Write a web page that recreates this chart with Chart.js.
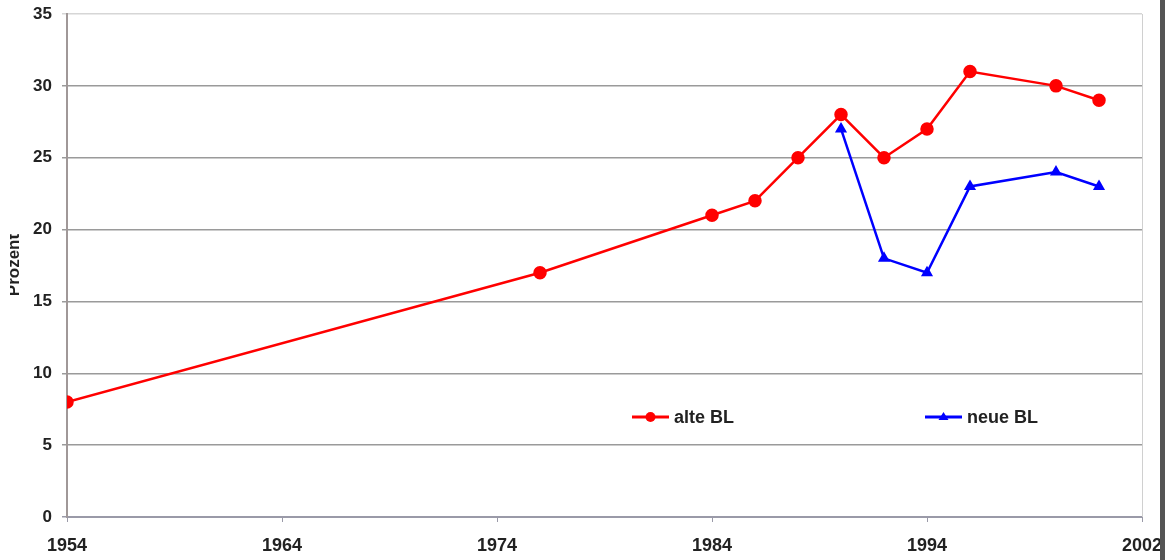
<!DOCTYPE html>
<html><head><meta charset="utf-8">
<script src="https://cdn.jsdelivr.net/npm/chart.js@4"></script>
<style>html,body{margin:0;padding:0;background:#fff}#wrap{width:1168px;height:560px;position:relative}</style>
</head><body><div id="wrap"><canvas id="c" width="1168" height="560"></canvas></div>
<script>
const alteYears = [1954, 1976, 1984, 1986, 1988, 1990, 1992, 1994, 1996, 2000, 2002];
const alteValues = [8, 17, 21, 22, 25, 28, 25, 27, 31, 30, 29];
const neueYears = [1990, 1992, 1994, 1996, 2000, 2002];
const neueValues = [27, 18, 17, 23, 24, 23];
const xTickValues = [1954, 1964, 1974, 1984, 1994, 2004];
const xTickLabels = ["1954", "1964", "1974", "1984", "1994", "2002"];
const seriesNames = ["alte BL", "neue BL"];
const yTitle = "Prozent";

const toPts = (xs, ys) => xs.map((x, i) => ({x: x, y: ys[i]}));
const FONT = '"Liberation Sans", Arial, sans-serif';

const extras = {
  id: 'extras',
  beforeDraw(chart) {
    const ctx = chart.ctx;
    ctx.save();
    ctx.fillStyle = '#fff';
    ctx.fillRect(0, 0, chart.width, chart.height);
    ctx.restore();
  },
  afterDraw(chart) {
    const ctx = chart.ctx;
    const a = chart.chartArea;
    ctx.save();
    ctx.strokeStyle = '#d0d0d0';
    ctx.lineWidth = 1;
    ctx.beginPath(); ctx.moveTo(a.right + 0.5, a.top); ctx.lineTo(a.right + 0.5, a.bottom); ctx.stroke();
    ctx.restore();
    // y title, clipped at the left edge as in the reference
    ctx.save();
    ctx.beginPath(); ctx.rect(10, 0, 60, chart.height); ctx.clip();
    ctx.translate(14, 265);
    ctx.rotate(-Math.PI / 2);
    ctx.fillStyle = '#222';
    ctx.font = 'bold 17px ' + FONT;
    ctx.textAlign = 'center'; ctx.textBaseline = 'middle';
    ctx.fillText(yTitle, 0, 0);
    ctx.restore();
    // legend
    const items = [
      {x: 632, y: 417, ds: chart.data.datasets[0]},
      {x: 925, y: 417, ds: chart.data.datasets[1]}
    ];
    ctx.save();
    items.forEach(it => {
      ctx.strokeStyle = it.ds.borderColor; ctx.lineWidth = 3;
      ctx.beginPath(); ctx.moveTo(it.x, it.y); ctx.lineTo(it.x + 37, it.y); ctx.stroke();
      ctx.fillStyle = it.ds.borderColor;
      const cx = it.x + 18.5;
      if (it.ds.pointStyle === 'circle') {
        ctx.beginPath(); ctx.arc(cx, it.y, 5, 0, Math.PI * 2); ctx.fill();
      } else {
        ctx.beginPath(); ctx.moveTo(cx, it.y - 5); ctx.lineTo(cx + 5, it.y + 3); ctx.lineTo(cx - 5, it.y + 3); ctx.closePath(); ctx.fill();
      }
      ctx.fillStyle = '#222';
      ctx.font = 'bold 18px ' + FONT;
      ctx.textAlign = 'left'; ctx.textBaseline = 'middle';
      ctx.fillText(it.ds.label, it.x + 42, it.y + 1);
    });
    ctx.fillStyle = '#555';
    ctx.fillRect(1160, 0, 5, chart.height);
    ctx.restore();
  }
};

new Chart(document.getElementById('c'), {
  type: 'line',
  data: {
    datasets: [
      {label: seriesNames[0], data: toPts(alteYears, alteValues), borderColor: '#ff0000', backgroundColor: '#ff0000',
       borderWidth: 2.5, pointStyle: 'circle', pointRadius: 5.5, pointHoverRadius: 5.5, tension: 0},
      {label: seriesNames[1], data: toPts(neueYears, neueValues), borderColor: '#0000ff', backgroundColor: '#0000ff',
       borderWidth: 2.5, pointStyle: 'triangle', pointRadius: 4.5, pointHoverRadius: 4.5, tension: 0}
    ]
  },
  options: {
    responsive: false, animation: false,
    layout: {padding: {top: 14, right: 26, left: 0, bottom: 0}},
    plugins: {legend: {display: false}, tooltip: {enabled: false}},
    scales: {
      x: {
        type: 'linear', min: 1954, max: 2004,
        afterBuildTicks: s => { s.ticks = xTickValues.map(v => ({value: v})); },
        afterFit: s => { s.height = 43; s.paddingLeft = 0; s.paddingRight = 0; },
        ticks: {
          callback: (v) => { const i = xTickValues.indexOf(v); return i >= 0 ? xTickLabels[i] : ''; },
          font: {family: FONT, size: 18, weight: 'bold'}, color: '#222',
          padding: 13, maxRotation: 0, autoSkip: false
        },
        grid: {drawOnChartArea: false, drawTicks: true, tickLength: 5, color: '#9a9aa8'},
        border: {color: '#9a9aa8', width: 2}
      },
      y: {
        min: 0, max: 35,
        afterFit: s => { s.width = 67; s.paddingTop = 0; s.paddingBottom = 0; },
        ticks: {stepSize: 5, font: {family: FONT, size: 17, weight: 'bold'}, color: '#222', padding: 10},
        grid: {color: (c) => c.tick && c.tick.value === 35 ? '#d6d6d6' : (c.tick && c.tick.value === 0 ? '#9a9aa8' : '#9a9a9a'),
               lineWidth: 1.5, tickLength: 5},
        border: {color: '#a09898', width: 2}
      }
    }
  },
  plugins: [extras]
});
</script></body></html>
